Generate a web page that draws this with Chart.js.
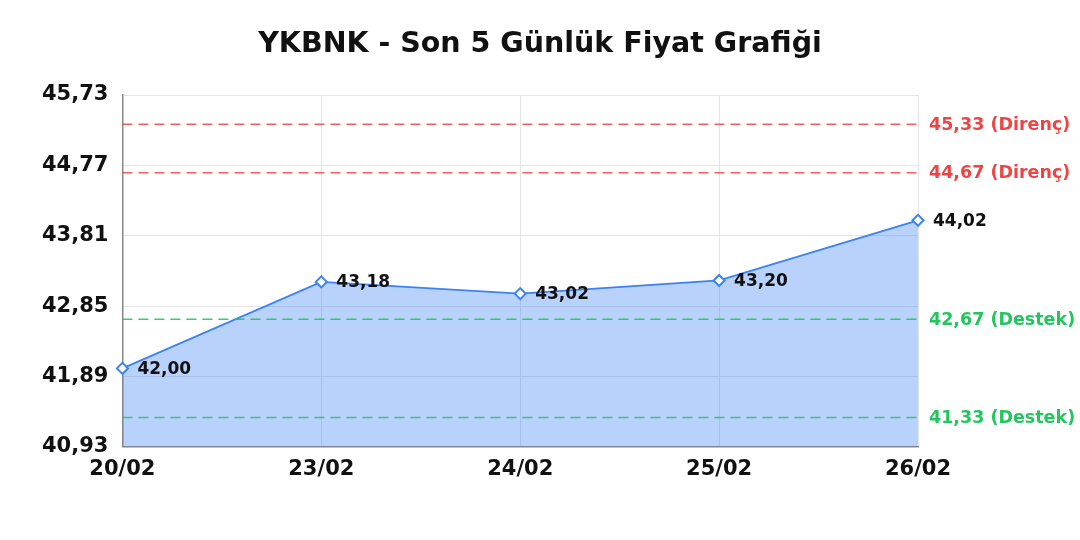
<!DOCTYPE html>
<html>
<head>
<meta charset="utf-8">
<script src="https://cdn.jsdelivr.net/npm/chart.js@4.4.1/dist/chart.umd.min.js"></script>
<style>
html,body{margin:0;padding:0;background:#fff;}
#wrap{width:1080px;height:540px;}
</style>
</head>
<body>
<div id="wrap"><canvas id="c"></canvas></div>
<script>
const categories = ["20/02","23/02","24/02","25/02","26/02"];
const prices = [42.00, 43.18, 43.02, 43.20, 44.02];
const yTicks = [40.93, 41.89, 42.85, 43.81, 44.77, 45.73];
const resistance = [45.33, 44.67];
const support = [42.67, 41.33];
const titleText = 'YKBNK - Son 5 Günlük Fiyat Grafiği';

const fmt = v => v.toFixed(2).replace('.', ',');
const FONT = "'DejaVu Sans', sans-serif";

const levelsPlugin = {
  id: 'levels',
  afterDatasetsDraw(chart) {
    const {ctx, chartArea, scales} = chart;
    const y = scales.y;
    const lines = [];
    resistance.forEach(v => lines.push({v, line:'rgba(239,68,68,0.85)', text:'#ef4444', label: fmt(v) + ' (Direnç)'}));
    support.forEach(v => lines.push({v, line:'rgba(34,197,94,0.9)', text:'#22c55e', label: fmt(v) + ' (Destek)'}));
    ctx.save();
    lines.forEach(l => {
      const py = y.getPixelForValue(l.v);
      ctx.beginPath();
      ctx.setLineDash([10, 6]);
      ctx.lineWidth = 1.5;
      ctx.strokeStyle = l.line;
      ctx.moveTo(chartArea.left, py);
      ctx.lineTo(chartArea.right, py);
      ctx.stroke();
      ctx.setLineDash([]);
      ctx.fillStyle = l.text;
      ctx.font = "bold 17.5px " + FONT;
      ctx.textAlign = 'left';
      ctx.textBaseline = 'middle';
      ctx.fillText(l.label, chartArea.right + 11, py + 1);
    });
    const meta = chart.getDatasetMeta(0);
    ctx.fillStyle = '#111';
    ctx.font = "bold 17px " + FONT;
    meta.data.forEach((pt, i) => {
      ctx.fillText(fmt(prices[i]), pt.x + 15, pt.y + 1);
    });
    // title centred on the canvas
    ctx.fillStyle = '#111';
    ctx.font = "bold 28.5px " + FONT;
    ctx.textAlign = 'center';
    ctx.textBaseline = 'middle';
    ctx.fillText(titleText, chart.width / 2, 45);
    ctx.restore();
  }
};

new Chart(document.getElementById('c'), {
  type: 'line',
  data: {
    labels: categories,
    datasets: [{
      data: prices,
      borderColor: '#3b82f6',
      borderWidth: 1.8,
      backgroundColor: 'rgba(59,130,246,0.36)',
      fill: 'start',
      tension: 0,
      pointStyle: 'rectRot',
      pointRadius: 5.5,
      pointBorderWidth: 2,
      pointBackgroundColor: '#fff',
      pointBorderColor: '#3b82f6'
    }]
  },
  options: {
    responsive: true,
    maintainAspectRatio: false,
    animation: false,
    layout: { padding: { left: 28, right: 162, top: 95, bottom: 48 } },
    plugins: {
      legend: { display: false },
      tooltip: { enabled: false },
      title: { display: false }
    },
    scales: {
      x: {
        grid: { color: '#e4e4e4', drawTicks: false },
        border: { color: '#888', width: 1.5 },
        ticks: { color: '#111', font: { family: FONT, size: 21, weight: 'bold' }, padding: 10, maxRotation: 0 }
      },
      y: {
        min: yTicks[0],
        max: yTicks[yTicks.length - 1],
        afterBuildTicks: axis => { axis.ticks = yTicks.map(v => ({ value: v })); },
        grid: { color: '#e4e4e4', drawTicks: false },
        border: { color: '#888', width: 1.5 },
        ticks: { color: '#111', font: { family: FONT, size: 21, weight: 'bold' }, padding: 14, callback: v => fmt(v) }
      }
    }
  },
  plugins: [levelsPlugin]
});
</script>
</body>
</html>
